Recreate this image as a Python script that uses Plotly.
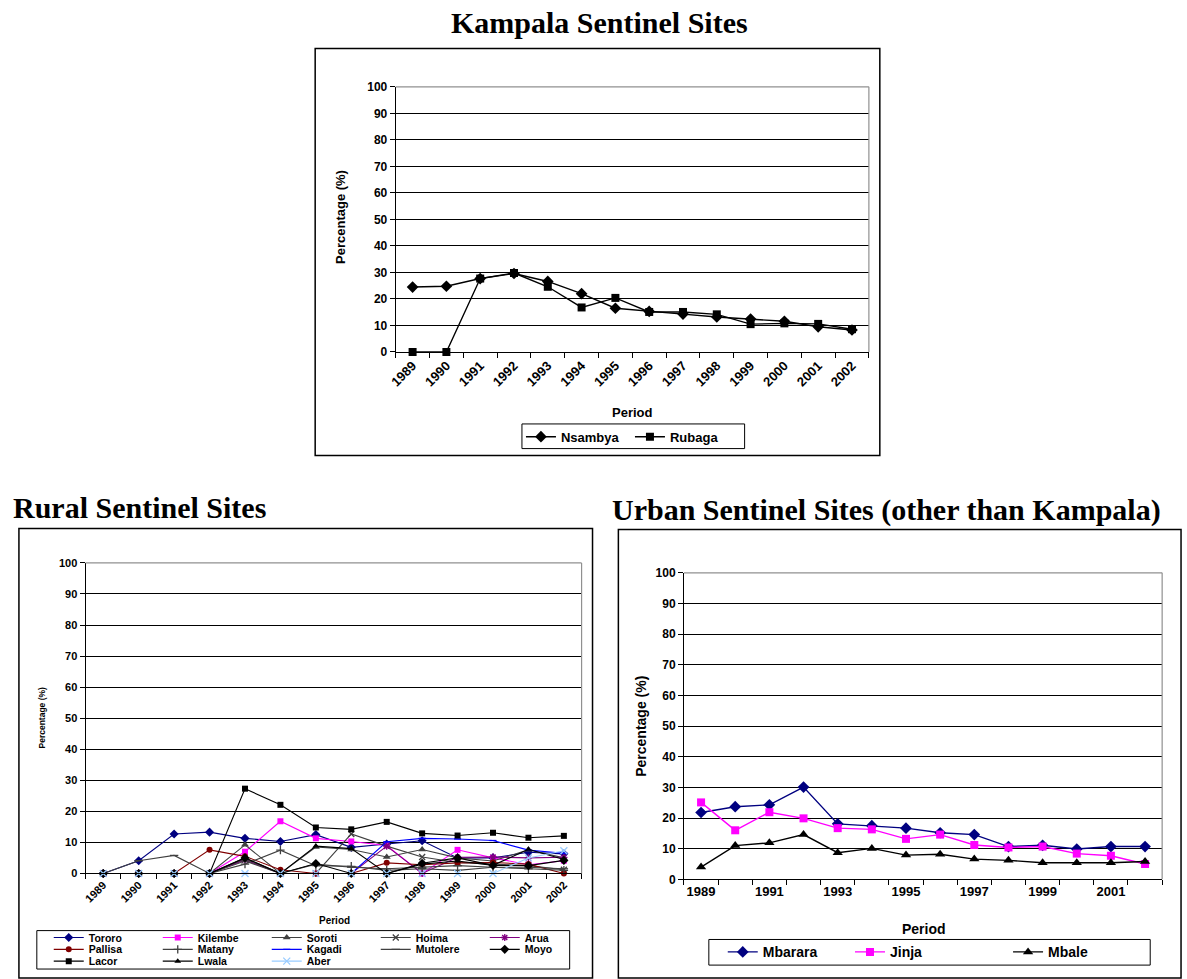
import plotly.graph_objects as go

# ---------------- data ----------------
years = list(range(1989, 2003))
year_labels = [str(y) for y in years]

# Kampala sentinel sites (%)
nsambya = [24.5, 24.8, 27.7, 29.6, 26.6, 22.0, 16.5, 15.3, 14.3, 13.2, 12.4, 11.6, 9.5, 8.3]
rubaga = [0, 0, 27.7, 29.8, 24.6, 16.8, 20.4, 15.1, 15.1, 14.2, 10.5, 10.8, 10.6, 8.6]

# Rural sentinel sites (%)
tororo = [0, 4.1, 12.7, 13.3, 11.3, 10.3, 12.5, 8.4, 9.5, 10.5, 5.0, 5.0, 6.8, 6.3]
kilembe = [0, 0, 0, 0, 7.0, 16.8, 11.3, 10.3, 9.0, 0, 7.6, 5.0, 2.8, 4.1]
soroti = [0, 0, 0, 0, 9.2, 0, 8.5, 7.7, 5.3, 7.7, 5.0, 4.0, 7.6, 5.0]
hoima = [0, 0, 0, 0, 4.5, 0, 0, 12.7, 8.8, 5.3, 3.5, 3.0, 2.5, 1.2]
arua = [0, 0, 0, 0, 4.3, 0, 0, 0, 8.8, 0, 5.2, 5.3, 5.0, 5.2]
pallisa = [0, 0, 0, 7.6, 5.5, 1.2, 0, 0, 3.4, 2.8, 3.4, 3.5, 3.0, 0]
matany = [0, 0, 0, 0, 3.0, 7.5, 2.5, 2.3, 1.0, 1.5, 1.0, 2.0, 1.5, 1.0]
kagadi = [0, 0, 0, 0, 0, 0, 0, 0, 10.2, 11.3, 11.1, 10.6, 7.5, 6.5]
mutolere = [0, 4.1, 5.8, 0, 4.0, 0, 3.0, 2.0, 1.5, 2.0, 2.5, 2.0, 2.0, 1.5]
moyo = [0, 0, 0, 0, 5.0, 0, 3.2, 0, 0, 3.3, 5.0, 2.6, 2.5, 4.2]
lacor = [0, 0, 0, 0, 27.3, 22.1, 14.8, 14.2, 16.6, 12.9, 12.2, 13.1, 11.5, 12.1]
lwala = [0, 0, 0, 0, 5.0, 0, 8.8, 8.0, 0, 3.0, 4.0, 2.6, 7.8, 4.5]
aber = [0, 0, 0, 0, 0, 0, 0, 0, 0, 0, 0, 0, 5.0, 7.3]

# Urban sentinel sites other than Kampala (%)
mbarara = [21.8, 23.7, 24.3, 30.1, 18.1, 17.5, 16.7, 15.2, 14.6, 10.7, 11.1, 9.9, 10.7, 10.7]
jinja = [25.1, 16.0, 21.9, 19.9, 16.7, 16.3, 13.2, 14.6, 11.2, 10.4, 10.7, 8.4, 7.7, 5.0]
mbale = [4.0, 11.0, 11.9, 14.6, 8.7, 10.1, 7.9, 8.2, 6.6, 6.2, 5.4, 5.4, 5.4, 5.8]

urban_labels = [str(y) if (y - 1989) % 2 == 0 else "" for y in years]

# ---------------- page geometry (pixels) ----------------
W, H = 1187, 979


def fx(p):
    return p / W


def fy(p):
    return 1 - p / H


SANS = "Liberation Sans"
SERIF = "Liberation Serif"
GRAY_LINE = "#404040"

fig = go.Figure()


def add_series(name, y, color, symbol, size, xa, ya, legend, width=1.0, open_sym=False):
    marker = dict(symbol=symbol, size=size, color=color)
    if open_sym:
        marker["line"] = dict(width=1.3, color=color)
    else:
        marker["line"] = dict(width=0)
    fig.add_trace(go.Scatter(
        x=years, y=y, name=name, mode="lines+markers",
        line=dict(color=color, width=width), marker=marker,
        xaxis=xa, yaxis=ya, legend=legend, cliponaxis=False,
    ))


# Kampala
add_series("Nsambya", nsambya, "black", "diamond", 9, "x", "y", "legend4", 1.4)
add_series("Rubaga", rubaga, "black", "square", 8, "x", "y", "legend4", 1.4)

# Rural
rural = [
    ("Tororo", tororo, "#000080", "diamond", 7, False, "legend"),
    ("Kilembe", kilembe, "#FF00FF", "square", 6, False, "legend"),
    ("Soroti", soroti, GRAY_LINE, "triangle-up", 7, False, "legend"),
    ("Hoima", hoima, GRAY_LINE, "x-thin", 6, True, "legend"),
    ("Arua", arua, "#800080", "asterisk", 6, True, "legend"),
    ("Pallisa", pallisa, "#800000", "circle", 6, False, "legend2"),
    ("Matany", matany, GRAY_LINE, "cross-thin", 6, True, "legend2"),
    ("Kagadi", kagadi, "#0000FF", "line-ew", 5, True, "legend2"),
    ("Mutolere", mutolere, GRAY_LINE, "line-ew", 6, True, "legend2"),
    ("Moyo", moyo, "black", "diamond", 7, False, "legend2"),
    ("Lacor", lacor, "black", "square", 6, False, "legend3"),
    ("Lwala", lwala, "black", "triangle-up", 6, False, "legend3"),
    ("Aber", aber, "#99CCFF", "x-thin", 7, True, "legend3"),
]
for name, vals, col, sym, sz, op, lg in rural:
    add_series(name, vals, col, sym, sz, "x2", "y2", lg, 1.1, op)

# Urban
add_series("Mbarara", mbarara, "#000080", "diamond", 9, "x3", "y3", "legend5", 1.4)
add_series("Jinja", jinja, "#FF00FF", "square", 8, "x3", "y3", "legend6", 1.4)
add_series("Mbale", mbale, "black", "triangle-up", 9, "x3", "y3", "legend7", 1.4)

# plot areas (pixels): left, right, top(=100), bottom(=0)
areas = {
    "1": (391, 867, 81, 350),
    "2": (79, 578, 564, 879),
    "3": (681, 1162, 574, 885),
}


def xaxis(area, size, angle, labels, anchor):
    l, r, t, b = area
    return dict(
        domain=[fx(l), fx(r)], range=[1988.5, 2002.5], anchor=anchor,
        tickmode="array", tickvals=years, ticktext=labels, ticks="",
        tickangle=angle, tickfont=dict(family=SANS, size=size, color="black", weight="bold"),
        showline=True, linecolor="black", linewidth=1, showgrid=False, zeroline=False,
        minor=dict(tickmode="linear", tick0=1988.5, dtick=1, ticks="outside",
                   ticklen=5, tickcolor="black", tickwidth=1, showgrid=False),
        fixedrange=True,
    )


def yaxis(area, size, anchor):
    l, r, t, b = area
    return dict(
        domain=[fy(b), fy(t)], range=[0, 100], tickmode="linear", tick0=0, dtick=10,
        ticks="outside", ticklen=5, tickcolor="black",
        tickfont=dict(family=SANS, size=size, color="black", weight="bold"),
        showline=True, linecolor="black", linewidth=1,
        showgrid=True, gridcolor="black", gridwidth=1, zeroline=False,
        anchor=anchor, fixedrange=True,
    )


layout = dict(
    width=W, height=H, margin=dict(l=0, r=0, t=0, b=0),
    paper_bgcolor="white", plot_bgcolor="white", showlegend=True,
    xaxis=xaxis(areas["1"], 13, -45, year_labels, "y"),
    yaxis=yaxis(areas["1"], 12, "x"),
    xaxis2=xaxis(areas["2"], 11, -45, year_labels, "y2"),
    yaxis2=yaxis(areas["2"], 11, "x2"),
    xaxis3=xaxis(areas["3"], 13, 0, urban_labels, "y3"),
    yaxis3=yaxis(areas["3"], 12, "x3"),
)


def legend_at(x, y, size, entrywidth):
    return dict(
        orientation="h", x=fx(x), y=fy(y), xanchor="left", yanchor="middle",
        font=dict(family=SANS, size=size, color="black", weight="bold"),
        bgcolor="rgba(0,0,0,0)", borderwidth=0, entrywidth=entrywidth,
        itemclick=False, itemdoubleclick=False, tracegroupgap=0,
    )


layout["legend"] = legend_at(42, 944, 10.5, 64)
layout["legend2"] = legend_at(42, 956, 10.5, 64)
layout["legend3"] = legend_at(42, 968, 10.5, 64)
layout["legend4"] = legend_at(517, 436, 13, 64)
layout["legend5"] = legend_at(720, 959, 14, 70)
layout["legend6"] = legend_at(848, 959, 14, 70)
layout["legend7"] = legend_at(1007, 959, 14, 70)

fig.update_layout(**layout)

# frames around each chart, legend boxes and gray plot-area borders
shapes = []


def rect(x0, y0, x1, y1, color="black", width=1.5, layer="above"):
    shapes.append(dict(type="rect", xref="paper", yref="paper",
                       x0=fx(x0), x1=fx(x1), y0=fy(y1), y1=fy(y0),
                       line=dict(color=color, width=width), layer=layer))


def line(x0, y0, x1, y1, color, width=1):
    shapes.append(dict(type="line", xref="paper", yref="paper",
                       x0=fx(x0), x1=fx(x1), y0=fy(y0), y1=fy(y1),
                       line=dict(color=color, width=width), layer="above"))


rect(310, 42, 878, 455)
rect(12, 529, 589, 985)
rect(615, 530, 1181, 985)
rect(518, 423, 742, 448, width=1)
rect(30, 937, 566, 976, width=1)
rect(706, 946, 1150, 972, width=1)
for l, r, t, b in areas.values():
    line(l, t, r, t, "#909090", 1.2)
    line(r, t, r, b, "#909090", 1.2)
fig.update_layout(shapes=shapes)

# titles and axis titles
ann = []


def text(x, y, s, size, family=SANS, angle=0, xanchor="center"):
    ann.append(dict(text=s, x=fx(x), y=fy(y), xref="paper", yref="paper",
                    showarrow=False, textangle=angle, xanchor=xanchor, yanchor="middle",
                    font=dict(family=family, size=size, color="black", weight="bold")))


text(596, 16, "Kampala Sentinel Sites", 30, SERIF)
text(4, 508, "Rural Sentinel Sites", 30, SERIF, xanchor="left")
text(607, 510, "Urban Sentinel Sites (other than Kampala)", 30, SERIF, xanchor="left")

text(336, 213, "Percentage (%)", 13, angle=-90)
text(629, 411, "Period", 13)
text(35, 721, "Percentage (%)", 8.5, angle=-90)
text(329, 927, "Period", 10)
text(637, 730, "Percentage (%)", 14, angle=-90)
text(922, 935, "Period", 14)
fig.update_layout(annotations=ann)

fig.write_html("out.html")
